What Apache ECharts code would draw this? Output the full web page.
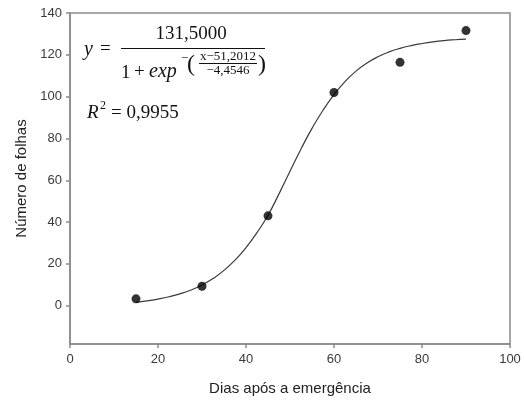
<!DOCTYPE html>
<html>
<head>
<meta charset="utf-8">
<script src="https://cdn.jsdelivr.net/npm/echarts@6/dist/echarts.min.js"></script>
<style>
  html, body { margin: 0; padding: 0; background: #fff; }
  #chart { width: 524px; height: 401px; }
</style>
</head>
<body>
<div id="chart"></div>
<script>
// Observed leaf counts by days after emergence
const days = [15, 30, 45, 60, 75, 90];
const leaves = [3.3, 9.3, 43, 102, 116.4, 131.6];

// Fitted sigmoid curve, sampled every 2.5 days
const fitDays = [15, 17.5, 20, 22.5, 25, 27.5, 30, 32.5, 35, 37.5, 40, 42.5, 45, 47.5, 50, 52.5,
                 55, 57.5, 60, 62.5, 65, 67.5, 70, 72.5, 75, 77.5, 80, 82.5, 85, 87.5, 90];
const fitLeaves = [1.6, 2.3, 3.2, 4.3, 5.7, 7.5, 9.9, 13.0, 16.9, 21.8, 27.8, 35.0, 43.3, 53.5, 64.3, 75.0,
                   84.8, 93.5, 101.0, 107.2, 112.2, 116.1, 119.1, 121.4, 123.1, 124.4, 125.4, 126.2, 126.8, 127.2, 127.5];

// Tick values
const xTicks = [0, 20, 40, 60, 80, 100];
const yTicks = [0, 20, 40, 60, 80, 100, 120, 140];

const axisColor = '#8a8a8a';
const sans = '"Liberation Sans", Arial, sans-serif';
const serif = '"Liberation Serif", "Times New Roman", serif';

const chart = echarts.init(document.getElementById('chart'), null, { renderer: 'canvas' });

function txt(x, y, text, size, opts) {
  opts = opts || {};
  return {
    type: 'text', x: x, y: y, z: 10,
    style: {
      text: text,
      fontSize: size,
      fontFamily: serif,
      fontStyle: opts.italic ? 'italic' : 'normal',
      fill: '#111',
      align: opts.align || 'left',
      verticalAlign: 'middle'
    }
  };
}
function hline(x1, x2, y, w) {
  return { type: 'line', z: 10, shape: { x1: x1, y1: y, x2: x2, y2: y }, style: { stroke: '#111', lineWidth: w || 1 } };
}

chart.setOption({
  animation: false,
  backgroundColor: '#fff',
  grid: {
    left: 70, right: 14, top: 13, bottom: 57,
    show: true, borderColor: axisColor, borderWidth: 1.5, backgroundColor: 'transparent'
  },
  xAxis: {
    type: 'value',
    min: 0, max: 100, interval: 20,
    name: 'Dias após a emergência',
    nameLocation: 'middle',
    nameGap: 37,
    nameTextStyle: { fontFamily: sans, fontSize: 15, color: '#222' },
    axisLine: { show: true, onZero: false, lineStyle: { color: axisColor, width: 1.5 } },
    axisTick: { show: true, inside: false, length: 4, lineStyle: { color: axisColor, width: 1.5 } },
    axisLabel: { margin: 9, fontFamily: sans, fontSize: 13, color: '#3a3a3a', customValues: xTicks },
    splitLine: { show: false }
  },
  yAxis: {
    type: 'value',
    min: -18.3, max: 140,
    name: 'Número de folhas',
    nameLocation: 'middle',
    nameGap: 40,
    nameTextStyle: { fontFamily: sans, fontSize: 15, color: '#222' },
    axisLine: { show: true, onZero: false, lineStyle: { color: axisColor, width: 1.5 } },
    axisTick: { show: true, inside: false, length: 4, lineStyle: { color: axisColor, width: 1.5 }, customValues: yTicks },
    axisLabel: { margin: 8, fontFamily: sans, fontSize: 13, color: '#3a3a3a', customValues: yTicks },
    splitLine: { show: false }
  },
  series: [
    {
      type: 'line',
      data: fitDays.map((d, i) => [d, fitLeaves[i]]),
      smooth: 0.5,
      symbol: 'none',
      lineStyle: { color: '#3a3a3a', width: 1.2 },
      z: 2
    },
    {
      type: 'scatter',
      data: days.map((d, i) => [d, leaves[i]]),
      symbol: 'circle',
      symbolSize: 9,
      itemStyle: { color: '#000' },
      z: 3
    }
  ],
  graphic: [
    // y = 131,5000 / (1 + exp^-((x-51,2012)/(-4,4546)))
    txt(84, 50, 'y', 20, { italic: true }),
    txt(100, 49, '=', 19),
    txt(191, 34, '131,5000', 19, { align: 'center' }),
    hline(121, 265, 48.5, 1),
    txt(121, 73, '1', 19),
    txt(134, 72, '+', 19),
    txt(149, 72, 'exp', 20, { italic: true }),
    txt(181, 59, '−', 13),
    txt(187, 65, '(', 24),
    txt(228, 57, 'x−51,2012', 13, { align: 'center' }),
    hline(199, 257, 63.5, 1),
    txt(228, 71, '−4,4546', 13, { align: 'center' }),
    txt(258, 65, ')', 24),
    // R² = 0,9955
    txt(87, 113, 'R', 19, { italic: true }),
    txt(100, 106, '2', 12),
    txt(111, 113, '= 0,9955', 19)
  ]
});
</script>
</body>
</html>
